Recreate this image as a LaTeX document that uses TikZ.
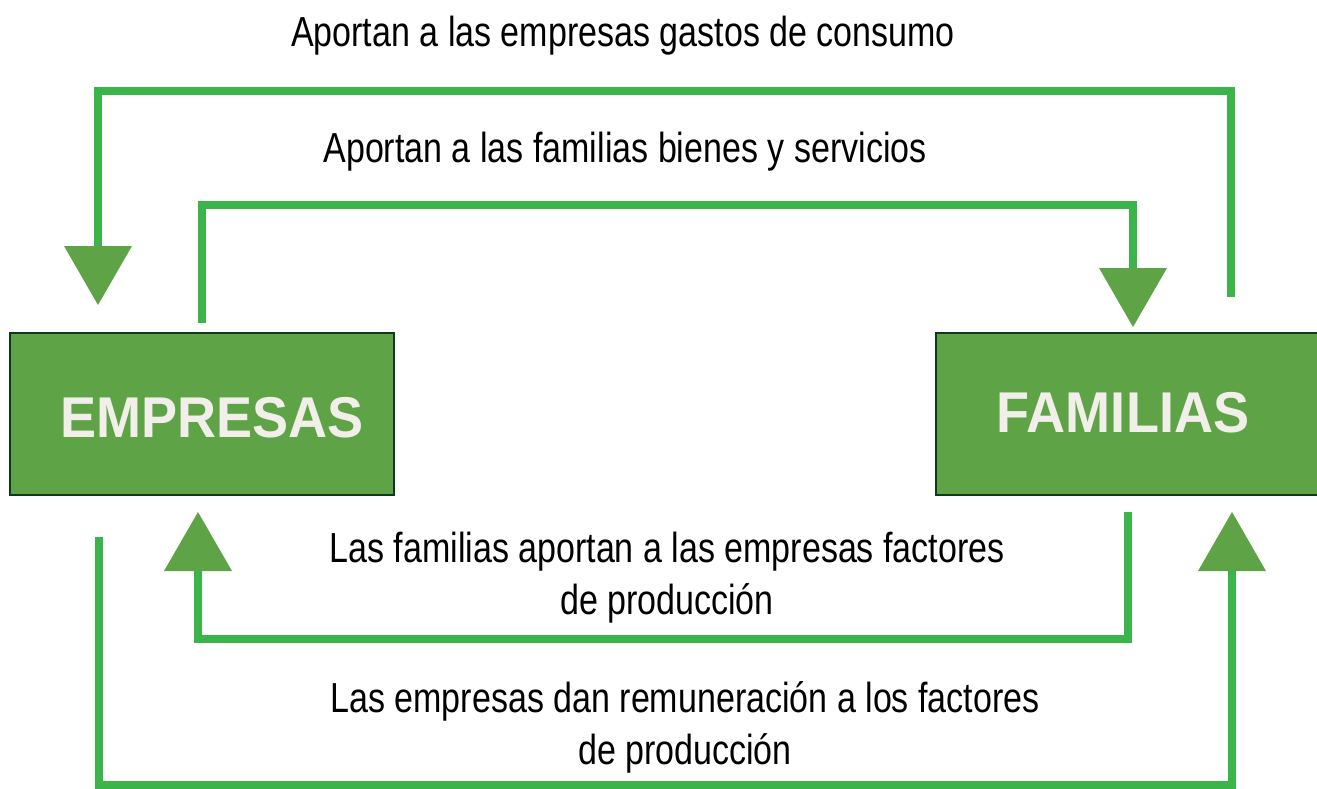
\documentclass[tikz,border=0pt]{standalone}
\usepackage{fontspec}
\setmainfont{Liberation Sans}[FakeStretch=0.81]
\newfontfamily\boxfont{Liberation Sans}[FakeStretch=0.94]
\usetikzlibrary{arrows.meta}
\definecolor{linegreen}{HTML}{3BB54A}
\definecolor{boxgreen}{HTML}{5EA446}
\definecolor{boxborder}{HTML}{0C3A1C}
\definecolor{boxtext}{HTML}{F2EEEA}
\tikzset{
  flow/.style={draw=linegreen, line width=7.5pt,
    -{Triangle[width=68pt,length=59pt,line width=0pt,color=boxgreen]}},
  agentbox/.style={draw=boxborder, fill=boxgreen, line width=2.5pt, inner sep=0pt},
  agenttext/.style={text=boxtext, inner sep=0pt, font=\boxfont\bfseries\fontsize{57.5}{60}\selectfont},
  flowtext/.style={inner sep=0pt, anchor=base, align=center, font=\fontsize{42}{52}\selectfont}
}
\begin{document}
\begin{tikzpicture}[x=1pt,y=-1pt]
\useasboundingbox (0,0) rectangle (1317,789);
% boxes
\node[agentbox, minimum width=384pt, minimum height=162pt] (emp) at (202,414) {};
\node[agentbox, minimum width=390pt, minimum height=162pt] (fam) at (1131,414) {};
\node[agenttext] (emptxt) at (212,418) {EMPRESAS};
\node[agenttext] (famtxt) at (1123,413) {FAMILIAS};
% coordinates
\coordinate (a1) at (1231,297);
\coordinate (a2) at (98,305);
\coordinate (b1) at (202,323);
\coordinate (b2) at (1133,327);
\coordinate (c1) at (1128,512);
\coordinate (c2) at (198,512);
\coordinate (d1) at (99,537);
\coordinate (d2) at (1232,512);
% flows
\draw[flow] (a1) -- (1231,91) -| (a2);
\draw[flow] (b1) -- (202,205) -| (b2);
\draw[flow] (c1) -- (1128,639) -| (c2);
\draw[flow] (d1) -- (99,785) -| (d2);
% labels
\node[flowtext] (t1) at (623,47) {Aportan a las empresas gastos de consumo};
\node[flowtext] (t2) at (625,162) {Aportan a las familias bienes y servicios};
\node[flowtext] (t3) at (667,614) {Las familias aportan a las empresas factores\\de producción};
\node[flowtext] (t4) at (685,764) {Las empresas dan remuneración a los factores\\de producción};
\end{tikzpicture}
\end{document}
